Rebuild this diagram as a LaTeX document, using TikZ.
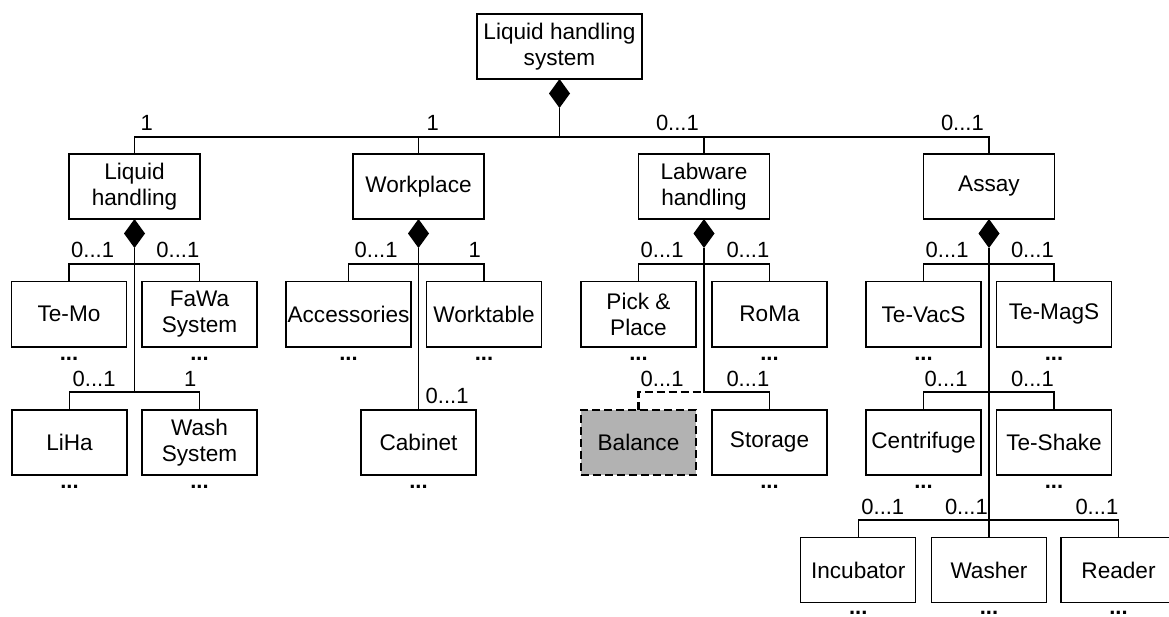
\documentclass[tikz,border=0pt]{standalone}
\usepackage{fontspec}
\setmainfont{Liberation Sans}
\usetikzlibrary{shapes.geometric}

\tikzset{
  part/.style = {rectangle, draw=black, line width = 1.4pt, fill=white,
                 minimum width = 115pt, minimum height = 65pt,
                 inner sep = 0pt, outer sep = 0pt, align=center,
                 font=\fontsize{22.6}{26}\selectfont},
  group/.style = {part, minimum width = 131pt},
  optional/.style = {part, fill=black!30, line width = 2.6pt,
                     dash pattern=on 8pt off 4pt},
  composite/.style = {diamond, fill=black, minimum width = 21pt,
                      minimum height = 29pt, inner sep=0pt, outer sep=0pt,
                      anchor=north},
  mult/.style = {inner sep=0pt, font=\fontsize{22}{26}\selectfont},
  more/.style = {inner sep=0pt, anchor=base,
                 font=\bfseries\fontsize{22}{26}\selectfont},
  link/.style = {line width = 1.4pt},
}

\begin{document}
\begin{tikzpicture}[x=1pt, y=-1pt]

    \useasboundingbox (0,0) rectangle (1169,617);

    % bus heights
    \coordinate (Bus_1) at (0,137);
    \coordinate (Bus_2) at (0,264);
    \coordinate (Bus_3) at (0,392);
    \coordinate (Bus_4) at (0,520);

    % Whole system
    \node[part, minimum width = 165pt] (Liquid_handling_system) at (559.5,46.5) {Liquid handling\\system};
    \node[composite] (Root_Diamond) at (Liquid_handling_system.south) {};

    % First level
    \node[group] (Liquid_handling)  at (134.5,186.5) {Liquid\\handling};
    \node[group] (Workplace)        at (418.5,186.5) {Workplace};
    \node[group] (Labware_handling) at (704,186.5)   {Labware\\handling};
    \node[group] (Assay)            at (989,186.5)   {Assay};

    \node[composite] (LH_Diamond) at (Liquid_handling.south) {};
    \node[composite] (WP_Diamond) at (Workplace.south) {};
    \node[composite] (LW_Diamond) at (Labware_handling.south) {};
    \node[composite] (AS_Diamond) at (Assay.south) {};

    \draw[link] (Root_Diamond.south) -- (Root_Diamond.south |- Bus_1);
    \draw[link] (Liquid_handling.north) |- (Assay.north |- Bus_1) -- (Assay.north);
    \draw[link] (Workplace.north) -- (Workplace.north |- Bus_1);
    \draw[link] (Labware_handling.north) -- (Labware_handling.north |- Bus_1);

    \node[mult, anchor=base west, xshift=6pt, yshift=6pt] (m_Liquid_handling) at (Liquid_handling.north |- Bus_1) {1};
    \node[mult, anchor=base west, xshift=8pt, yshift=6pt] (m_Workplace) at (Workplace.north |- Bus_1) {1};
    \node[mult, anchor=base east, xshift=-5pt, yshift=6pt] (m_Labware_handling) at (Labware_handling.north |- Bus_1) {0...1};
    \node[mult, anchor=base east, xshift=-5pt, yshift=6pt] (m_Assay) at (Assay.north |- Bus_1) {0...1};

    % Second level
    \node[part] (Te_Mo)       at (69,314.3)    {Te-Mo};
    \node[part] (FaWa_System) at (199.5,314.3) {FaWa\\System};
    \node[part, minimum width = 125pt] (Accessories) at (348.5,314.3) {Accessories};
    \node[part] (Worktable)   at (484,314.3)   {Worktable};
    \node[part] (Pick_Place)  at (638.5,314.3) {Pick \&\\Place};
    \node[part] (RoMa)        at (769.5,314.3) {RoMa};
    \node[part] (Te_VacS)     at (923.5,314.3) {Te-VacS};
    \node[part] (Te_MagS)     at (1054,314.3)  {Te-MagS};

    \draw[link] (Te_Mo.north) |- (FaWa_System.north |- Bus_2) -- (FaWa_System.north);
    \draw[link] (Accessories.north) |- (Worktable.north |- Bus_2) -- (Worktable.north);
    \draw[link] (Pick_Place.north) |- (RoMa.north |- Bus_2) -- (RoMa.north);
    \draw[link] (Te_VacS.north) |- (Te_MagS.north |- Bus_2) -- (Te_MagS.north);

    \node[mult, anchor=base west, xshift=2pt, yshift=6pt] (m_Te_Mo) at (Te_Mo.north |- Bus_2) {0...1};
    \node[mult, anchor=base east, yshift=6pt] (m_FaWa_System) at (FaWa_System.north |- Bus_2) {0...1};
    \node[mult, anchor=base west, xshift=6pt, yshift=6pt] (m_Accessories) at (Accessories.north |- Bus_2) {0...1};
    \node[mult, anchor=base east, xshift=-3pt, yshift=6pt] (m_Worktable) at (Worktable.north |- Bus_2) {1};
    \node[mult, anchor=base west, xshift=2pt, yshift=6pt] (m_Pick_Place) at (Pick_Place.north |- Bus_2) {0...1};
    \node[mult, anchor=base east, yshift=6pt] (m_RoMa) at (RoMa.north |- Bus_2) {0...1};
    \node[mult, anchor=base west, xshift=2pt, yshift=6pt] (m_Te_VacS) at (Te_VacS.north |- Bus_2) {0...1};
    \node[mult, anchor=base east, yshift=6pt] (m_Te_MagS) at (Te_MagS.north |- Bus_2) {0...1};

    % Third level
    \node[part] (LiHa)        at (69.5,442.3)  {LiHa};
    \node[part] (Wash_System) at (199.5,442.3) {Wash\\System};
    \node[part] (Cabinet)     at (418.5,442.3) {Cabinet};
    \node[optional] (Balance) at (638.5,442.3) {Balance};
    \node[part] (Storage)     at (769.5,442.3) {Storage};
    \node[part] (Centrifuge)  at (923.5,442.3) {Centrifuge};
    \node[part] (Te_Shake)    at (1054,442.3)  {Te-Shake};

    \draw[link] (LH_Diamond.south) -- (LH_Diamond.south |- Bus_3);
    \draw[link] (LiHa.north) |- (Wash_System.north |- Bus_3) -- (Wash_System.north);
    \draw[link] (WP_Diamond.south) -- (Cabinet.north);
    \draw[link] (LW_Diamond.south) -- (LW_Diamond.south |- Bus_3) -| (Storage.north);
    \draw[link, line width = 2.6pt, dash pattern=on 8pt off 4pt] (Balance.north) |- (LW_Diamond.south |- Bus_3);
    \draw[link] (Centrifuge.north) |- (Te_Shake.north |- Bus_3) -- (Te_Shake.north);

    \node[mult, anchor=base west, xshift=3pt, yshift=6pt] (m_LiHa) at (LiHa.north |- Bus_3) {0...1};
    \node[mult, anchor=base east, xshift=-3pt, yshift=6pt] (m_Wash_System) at (Wash_System.north |- Bus_3) {1};
    \node[mult, anchor=base west, xshift=7pt, yshift=6pt] (m_Cabinet) at (Cabinet.north) {0...1};
    \node[mult, anchor=base west, xshift=2pt, yshift=6pt] (m_Balance) at (Balance.north |- Bus_3) {0...1};
    \node[mult, anchor=base east, yshift=6pt] (m_Storage) at (Storage.north |- Bus_3) {0...1};
    \node[mult, anchor=base west, xshift=1pt, yshift=6pt] (m_Centrifuge) at (Centrifuge.north |- Bus_3) {0...1};
    \node[mult, anchor=base east, yshift=6pt] (m_Te_Shake) at (Te_Shake.north |- Bus_3) {0...1};

    % Fourth level (assay only)
    \node[part] (Incubator) at (858.2,570)  {Incubator};
    \node[part] (Washer)    at (989,570)    {Washer};
    \node[part] (Reader)    at (1118.5,570) {Reader};

    \draw[link] (AS_Diamond.south) -- (Washer.north);
    \draw[link] (Incubator.north) |- (Reader.north |- Bus_4) -- (Reader.north);

    \node[mult, anchor=base west, xshift=3pt, yshift=6pt] (m_Incubator) at (Incubator.north |- Bus_4) {0...1};
    \node[mult, anchor=base east, xshift=-1pt, yshift=6pt] (m_Washer) at (Washer.north |- Bus_4) {0...1};
    \node[mult, anchor=base east, yshift=6pt] (m_Reader) at (Reader.north |- Bus_4) {0...1};

    % dots under the parts that go on
    \foreach \p in {Te_Mo, FaWa_System, Accessories, Worktable, Pick_Place, RoMa,
                    Te_VacS, Te_MagS, LiHa, Wash_System, Cabinet, Storage,
                    Centrifuge, Te_Shake}
        \node[more] (\p_more) at ([yshift=-14pt]\p.south) {...};
    \foreach \p in {Incubator, Washer, Reader}
        \node[more] (\p_more) at ([yshift=-12pt]\p.south) {...};

\end{tikzpicture}
\end{document}
